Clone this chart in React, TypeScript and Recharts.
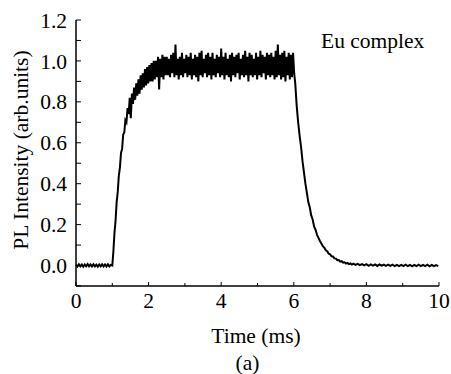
import React from "react"
import { LineChart, Line, XAxis, YAxis } from "recharts"

// PL decay trace (time in ms)
// baseline before the pulse: 0.00 to 0.96 ms, every 0.04 ms
const BASELINE = [
  0.004, -0.005, 0.006, -0.004, 0.005, -0.006, 0.005, -0.004, 0.007, -0.004,
  0.005, -0.005, 0.006, -0.004, 0.004, -0.006, 0.005, -0.004, 0.006, -0.005,
  0.005, -0.005, 0.006, -0.004, 0.003,
]

// rise: 1.00 to 2.47 ms, every 0.03 ms
const RISE = [
  0.0, 0.07, 0.16, 0.22, 0.31, 0.36, 0.44, 0.48, 0.55, 0.57,
  0.64, 0.65, 0.71, 0.7, 0.77, 0.74, 0.82, 0.72, 0.84, 0.79,
  0.87, 0.81, 0.89, 0.83, 0.91, 0.84, 0.93, 0.86, 0.94, 0.87,
  0.96, 0.88, 0.97, 0.89, 0.98, 0.9, 0.99, 0.9, 1.0, 0.91,
  1.0, 0.92, 1.02, 0.86, 1.01, 0.92, 1.03, 0.91, 1.02, 0.93,
]

// plateau: 2.50 to 6.01 ms, every 0.03 ms
const PLATEAU = [
  1.02, 0.93, 1.01, 0.92, 1.03, 0.94, 1.04, 0.92, 1.08, 0.93,
  1.01, 0.91, 1.02, 0.93, 1.04, 0.92, 1.01, 0.94, 1.03, 0.92,
  1.02, 0.93, 1.04, 0.91, 1.01, 0.93, 1.03, 0.92, 1.02, 0.9,
  1.04, 0.93, 1.05, 0.92, 1.01, 0.94, 1.03, 0.92, 1.04, 0.93,
  1.02, 0.91, 1.04, 0.93, 1.01, 0.92, 1.03, 0.94, 1.02, 0.92,
  1.06, 0.93, 1.02, 0.91, 1.04, 0.93, 1.01, 0.92, 1.03, 0.9,
  1.04, 0.93, 1.02, 0.92, 1.03, 0.94, 1.04, 0.91, 1.01, 0.93,
  1.03, 0.92, 1.05, 0.93, 1.02, 0.9, 1.04, 0.93, 1.03, 0.92,
  1.01, 0.93, 1.04, 0.91, 1.02, 0.93, 1.05, 0.92, 1.03, 0.94,
  1.02, 0.91, 1.04, 0.93, 1.03, 0.92, 1.04, 0.93, 1.02, 0.91,
  1.05, 0.92, 1.08, 0.93, 1.03, 0.91, 1.04, 0.92, 1.05, 0.9,
  1.02, 0.93, 1.04, 0.91, 1.03, 0.92, 1.04, 0.94,
]

// decay: 6.04 to 7.60 ms, every 0.04 ms
const DECAY = [
  0.89, 0.78, 0.7, 0.635, 0.58, 0.51, 0.455, 0.4, 0.355, 0.31,
  0.285, 0.245, 0.225, 0.19, 0.175, 0.15, 0.135, 0.12, 0.108, 0.095,
  0.088, 0.075, 0.07, 0.058, 0.055, 0.045, 0.044, 0.035, 0.034, 0.026,
  0.027, 0.019, 0.021, 0.014, 0.016, 0.01, 0.013, 0.007, 0.01, 0.005,
]

// tail: 7.64 to 9.98 ms, every 0.06 ms
const TAIL = [
  0.009, 0.003, 0.008, 0.002, 0.007, 0.001, 0.007, -0.001, 0.006, 0.0,
  0.005, -0.002, 0.005, -0.001, 0.004, -0.002, 0.004, -0.002, 0.004, -0.003,
  0.003, -0.003, 0.003, -0.003, 0.004, -0.003, 0.003, -0.004, 0.003, -0.003,
  0.004, -0.003, 0.003, -0.003, 0.004, -0.004, 0.003, -0.003, 0.002, -0.003,
]

const X_TICKS = [0, 1, 2, 3, 4, 5, 6, 7, 8, 9, 10]
const Y_TICKS = [-0.1, 0, 0.1, 0.2, 0.3, 0.4, 0.5, 0.6, 0.7, 0.8, 0.9, 1.0, 1.1, 1.2]

const sample = (start: number, step: number, values: number[]) =>
  values.map((v, i) => ({ t: +(start + i * step).toFixed(3), v }))

const data = [
  ...sample(0, 0.04, BASELINE),
  ...sample(1.0, 0.03, RISE),
  ...sample(2.5, 0.03, PLATEAU),
  ...sample(6.04, 0.04, DECAY),
  ...sample(7.64, 0.06, TAIL),
]

const FONT = "'Times New Roman', 'Liberation Serif', 'DejaVu Serif', serif"
const textStyle = { fontFamily: FONT, fontSize: 21.5, fill: "#000" }
const X_MARGIN = 7
const Y_MARGIN = 9

function XTick(props: any) {
  const { x, y, payload } = props
  const major = payload.value % 2 === 0
  const axisY = y - X_MARGIN
  return (
    <g>
      <line x1={x} x2={x} y1={axisY} y2={axisY - (major ? 4 : 3)} stroke="#000" strokeWidth={1} />
      {major && (
        <text x={x} y={y} dy="0.71em" textAnchor="middle" style={textStyle}>
          {payload.value}
        </text>
      )}
    </g>
  )
}

function YTick(props: any) {
  const { x, y, payload } = props
  const tenths = Math.round(payload.value * 10)
  const labelled = tenths >= 0 && tenths % 2 === 0
  const axisX = x + Y_MARGIN
  return (
    <g>
      <line x1={axisX} x2={axisX + 5} y1={y} y2={y} stroke="#000" strokeWidth={1} />
      {labelled && (
        <text x={x} y={y} dy="0.355em" textAnchor="end" style={textStyle}>
          {payload.value.toFixed(1)}
        </text>
      )}
    </g>
  )
}

export default function App() {
  return (
    <div style={{ position: "absolute", left: 0, top: 0, width: 451, height: 374, background: "#fff" }}>
      <LineChart width={451} height={374} data={data} margin={{ top: 20, right: 12, bottom: 58, left: 20 }}>
        <XAxis
          dataKey="t"
          type="number"
          domain={[0, 10]}
          ticks={X_TICKS}
          interval={0}
          height={30}
          tickSize={0}
          tickMargin={X_MARGIN}
          tick={<XTick />}
          axisLine={{ stroke: "#000", strokeWidth: 1.5 }}
        />
        <XAxis
          xAxisId="top"
          orientation="top"
          type="number"
          domain={[0, 10]}
          height={0}
          tick={false}
          tickLine={false}
          axisLine={{ stroke: "#000", strokeWidth: 1 }}
        />
        <YAxis
          type="number"
          domain={[-0.1, 1.2]}
          ticks={Y_TICKS}
          interval={0}
          width={56}
          tickSize={0}
          tickMargin={Y_MARGIN}
          tick={<YTick />}
          axisLine={{ stroke: "#000", strokeWidth: 1.5 }}
        />
        <YAxis
          yAxisId="right"
          orientation="right"
          type="number"
          domain={[-0.1, 1.2]}
          ticks={Y_TICKS}
          interval={0}
          width={0}
          tick={false}
          tickSize={-2}
          tickLine={{ stroke: "#888" }}
          axisLine={{ stroke: "#000", strokeWidth: 1 }}
        />
        <Line
          type="linear"
          dataKey="v"
          stroke="#000"
          strokeWidth={2}
          dot={false}
          isAnimationActive={false}
        />
      </LineChart>
      <svg
        width={451}
        height={374}
        style={{ position: "absolute", left: 0, top: 0, pointerEvents: "none" }}
      >
        <text x={321} y={48} style={textStyle}>Eu complex</text>
        <text x={256} y={343} textAnchor="middle" style={textStyle}>Time (ms)</text>
        <text x={247.5} y={369.5} textAnchor="middle" style={textStyle}>(a)</text>
        <text transform="translate(27.5,150) rotate(-90)" textAnchor="middle" style={textStyle}>
          PL Intensity (arb.units)
        </text>
      </svg>
    </div>
  )
}
